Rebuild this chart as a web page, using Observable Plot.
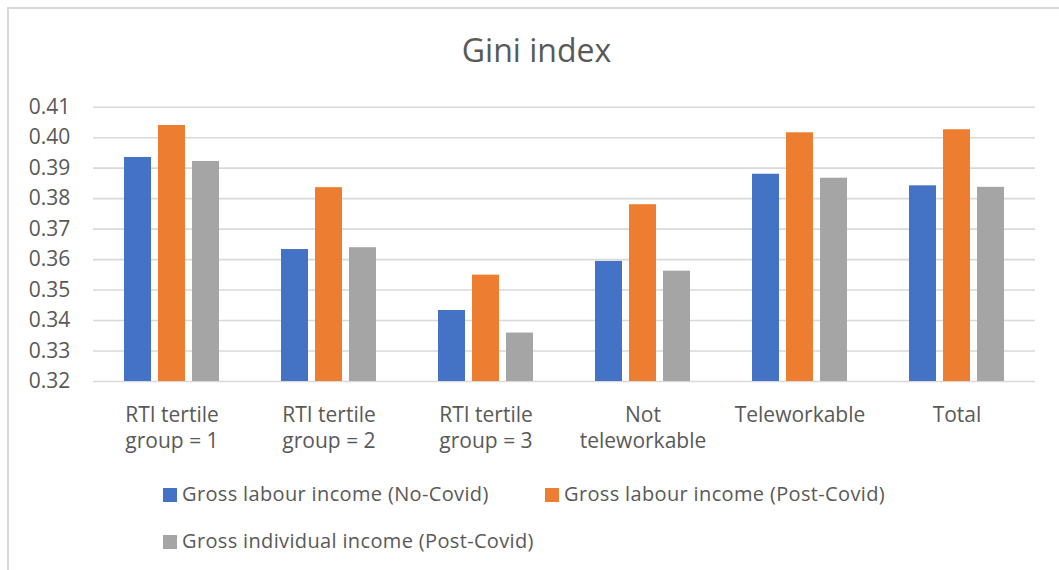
<!DOCTYPE html>
<html>
<head>
<meta charset="utf-8">
<script src="https://cdn.jsdelivr.net/npm/d3@7"></script>
<script src="https://cdn.jsdelivr.net/npm/@observablehq/plot@0.6"></script>
<style>
  html, body { margin: 0; padding: 0; background: #fff; overflow: hidden; }
  body { width: 1059px; height: 570px; position: relative; font-family: "Open Sans", sans-serif; color: #595959; }
  #frame { position: absolute; left: 7px; top: 7px; width: 1100px; height: 620px; border: 2px solid #d9d9d9; box-sizing: border-box; }
  #title { position: absolute; left: 0; width: 1073px; top: 33.6px; text-align: center; font-size: 32px; line-height: 1; }
  #chart { position: absolute; left: 0; top: 90px; }
  .legend-item { position: absolute; font-size: 20px; letter-spacing: 0.35px; line-height: 1; white-space: nowrap; }
  .legend-swatch { position: absolute; width: 14px; height: 14px; }
</style>
</head>
<body>
<div id="frame"></div>
<div id="title">Gini index</div>
<div id="chart"></div>
<div id="legend"></div>
<script>
// Groups on the horizontal axis and their two-line tick labels
const categories = [
  "RTI tertile group = 1",
  "RTI tertile group = 2",
  "RTI tertile group = 3",
  "Not teleworkable",
  "Teleworkable",
  "Total"
];
const tickLabels = [
  "RTI tertile\ngroup = 1",
  "RTI tertile\ngroup = 2",
  "RTI tertile\ngroup = 3",
  "Not\nteleworkable",
  "Teleworkable",
  "Total"
];

// Income measures (one bar each per group)
const series = [
  "Gross labour income (No-Covid)",
  "Gross labour income (Post-Covid)",
  "Gross individual income (Post-Covid)"
];
const colors = ["#4472C4", "#ED7D31", "#A5A5A5"];

// Gini index values per group
const labourNoCovid       = [0.3935, 0.3633, 0.3433, 0.3594, 0.3880, 0.3842];
const labourPostCovid     = [0.4040, 0.3836, 0.3549, 0.3780, 0.4016, 0.4026];
const individualPostCovid = [0.3922, 0.3639, 0.3359, 0.3562, 0.3867, 0.3837];

// Value axis ticks
const yTicks = [0.32, 0.33, 0.34, 0.35, 0.36, 0.37, 0.38, 0.39, 0.40, 0.41];

const valuesBySeries = [labourNoCovid, labourPostCovid, individualPostCovid];
const rows = categories.flatMap((category, i) =>
  series.map((s, j) => ({ category, series: s, value: valuesBySeries[j][i] }))
);

const chart = Plot.plot({
  width: 1059,
  height: 366,
  marginTop: 16.7,
  marginBottom: 75,
  marginLeft: 90,
  marginRight: 22,
  style: { fontFamily: "'Open Sans', sans-serif", fontSize: "20px", color: "#595959", background: "transparent", overflow: "visible" },
  fx: { domain: categories, padding: 0, label: null },
  x: { domain: series, paddingInner: 0.2, paddingOuter: 0.854, axis: null },
  y: { domain: [yTicks[0], yTicks[yTicks.length - 1]] },
  color: { domain: series, range: colors },
  marks: [
    Plot.gridY(yTicks, { stroke: "#d9d9d9", strokeOpacity: 1, strokeWidth: 1.6 }),
    Plot.barY(rows, { fx: "category", x: "series", y1: yTicks[0], y2: "value", fill: "series" }),
    Plot.axisY(yTicks, {
      tickSize: 0, tickPadding: 23.3, fontSize: 21, label: null,
      tickFormat: d => d.toFixed(2)
    }),
    Plot.axisFx({
      anchor: "bottom", tickSize: 0, tickPadding: 22, fontSize: 21, lineHeight: 1.24, label: null,
      tickFormat: d => tickLabels[categories.indexOf(d)]
    })
  ]
});
document.getElementById("chart").appendChild(chart);

// Legend: two rows beneath the plot
const legendSpots = [
  { x: 163, y: 488 },
  { x: 545, y: 488 },
  { x: 163, y: 535 }
];
const legend = document.getElementById("legend");
series.forEach((s, i) => {
  const p = legendSpots[i];
  const sw = document.createElement("div");
  sw.className = "legend-swatch";
  sw.style.left = p.x + "px";
  sw.style.top = p.y + "px";
  sw.style.background = colors[i];
  legend.appendChild(sw);
  const t = document.createElement("div");
  t.className = "legend-item";
  t.style.left = (p.x + 19) + "px";
  t.style.top = (p.y - 4) + "px";
  t.textContent = s;
  legend.appendChild(t);
});
</script>
</body>
</html>
